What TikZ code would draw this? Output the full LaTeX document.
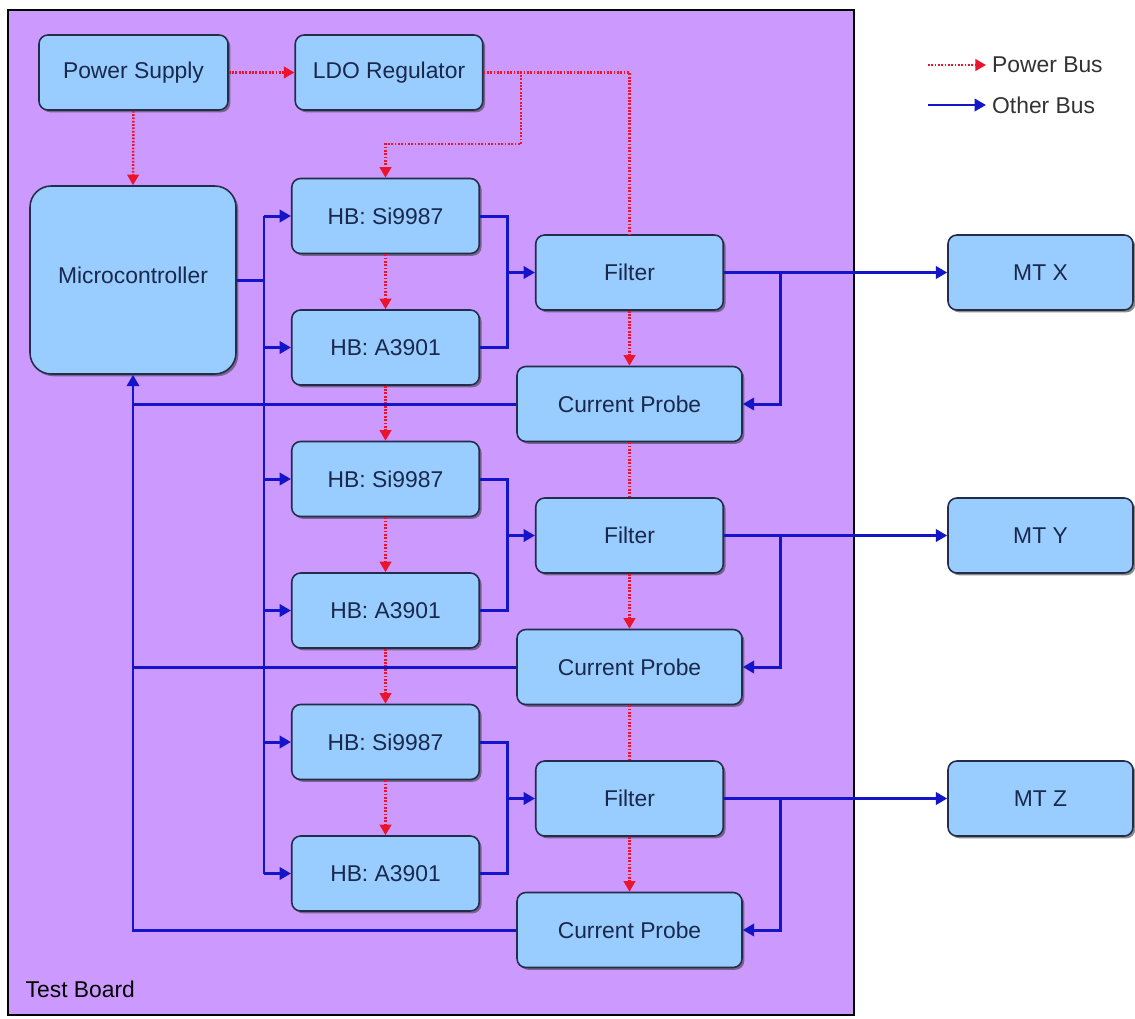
\documentclass[tikz,border=0pt]{standalone}
\usepackage{fontspec}
\setmainfont{Liberation Sans}
\usepackage{tikz}
\usetikzlibrary{arrows.meta,shadows}

\definecolor{boardpurple}{RGB}{204,153,255}
\definecolor{boxblue}{RGB}{153,204,255}
\definecolor{boxedge}{RGB}{35,45,75}
\definecolor{busblue}{RGB}{20,20,200}
\definecolor{pwrred}{RGB}{235,20,45}
\definecolor{txtnavy}{RGB}{25,40,75}

\begin{document}
\begin{tikzpicture}[x=0.02cm,y=-0.02cm,
  blk/.style={draw=boxedge,line width=0.9pt,fill=boxblue,rounded corners=5pt,
    minimum width=3.75cm,minimum height=1.5cm,text=txtnavy,
    font=\fontsize{13}{15}\selectfont,
    drop shadow={shadow xshift=1.3pt,shadow yshift=-1.3pt,fill=black!75,opacity=0.6}},
  pwrline/.style={draw=pwrred,line width=1.4pt,dash pattern=on 1pt off 0.9pt},
  pwr/.style={pwrline,-{Triangle[length=6pt,width=6.5pt]}},
  bus/.style={draw=busblue,line width=1.7pt},
  busarr/.style={bus,-{Triangle[length=6.5pt,width=7pt]}}]
\useasboundingbox (0,0) rectangle (1135,1018);
\fill[white] (0,0) rectangle (1135,1018);

% test board
\draw[fill=boardpurple,line width=0.7pt] (8,10) rectangle (854,1015);
\node[anchor=west,font=\fontsize{13}{15}\selectfont] (board) at (19.5,989) {Test Board};

% coordinates of the vertical buses
\coordinate (busx) at (264,0);
\coordinate (jx) at (507,0);
\coordinate (ox) at (780,0);

\node[blk,minimum width=3.78cm] (ps) at (133.5,72.5) {Power Supply};
\node[blk] (ldo) at (389,72.5) {LDO Regulator};
\node[blk,minimum width=4.12cm,minimum height=3.76cm,rounded corners=12pt] (mcu) at (133,280) {\raisebox{5pt}{Microcontroller}};

\foreach \i/\yo/\lbl in {1/0/X,2/263/Y,3/526/Z} {
  \node[blk] (hbs\i) at (385.5,216+\yo) {HB: Si9987};
  \node[blk] (hba\i) at (385.5,347.5+\yo) {HB: A3901};
  \node[blk] (flt\i) at (629.5,272.5+\yo) {Filter};
  \node[blk,minimum width=4.5cm] (cp\i) at (629.5,404+\yo) {Current Probe};
  \node[blk,minimum width=3.7cm] (mt\i) at (1040.5,272.5+\yo) {MT \lbl};
  % power and signal paths of one channel
  \draw[pwr] (hbs\i.south) -- (hba\i.north);
  \draw[pwr] (flt\i.south) -- (cp\i.north);
  \draw[busarr] (hbs\i.west -| busx) -- (hbs\i.west);
  \draw[busarr] (hba\i.west -| busx) -- (hba\i.west);
  \draw[bus] (hbs\i.east) -| (hba\i.east -| jx) -- (hba\i.east);
  \draw[busarr] (flt\i.west -| jx) -- (flt\i.west);
  \draw[busarr] (flt\i.east) -- (mt\i.west);
  \draw[busarr] (flt\i.east -| ox) |- (cp\i.east);
}

% power bus
\coordinate (ldoturn) at (521,144);
\draw[pwr] (ps.east) -- (ldo.west);
\draw[pwr] (ps.south) -- (mcu.north);
\draw[pwr] (ldo.east) -| (ldoturn) -| (hbs1.north);
\draw[pwrline] (ldo.east) -| (flt1.north);
\draw[pwr] (hba1.south) -- (hbs2.north);
\draw[pwr] (hba2.south) -- (hbs3.north);
\draw[pwrline] (cp1.south) -- (flt2.north);
\draw[pwrline] (cp2.south) -- (flt3.north);

% control bus and feedback
\draw[bus] (mcu.east) -- (mcu.east -| busx);
\draw[bus] (hbs1.west -| busx) -- (hba3.west -| busx);
\draw[bus] (cp1.west) -- (cp1.west -| mcu.south);
\draw[bus] (cp2.west) -- (cp2.west -| mcu.south);
\draw[busarr] (cp3.west) -| (mcu.south);

% legend
\coordinate (lgp) at (928,65);
\coordinate (lgo) at (928,105);
\node[anchor=west,font=\fontsize{13}{15}\selectfont,text=black!80] (lgptxt) at (986,65) {Power Bus};
\node[anchor=west,font=\fontsize{13}{15}\selectfont,text=black!80] (lgotxt) at (986,105) {Other Bus};
\draw[pwr] (lgp) -- (lgptxt.west);
\draw[busarr] (lgo) -- (lgotxt.west);
\end{tikzpicture}
\end{document}
